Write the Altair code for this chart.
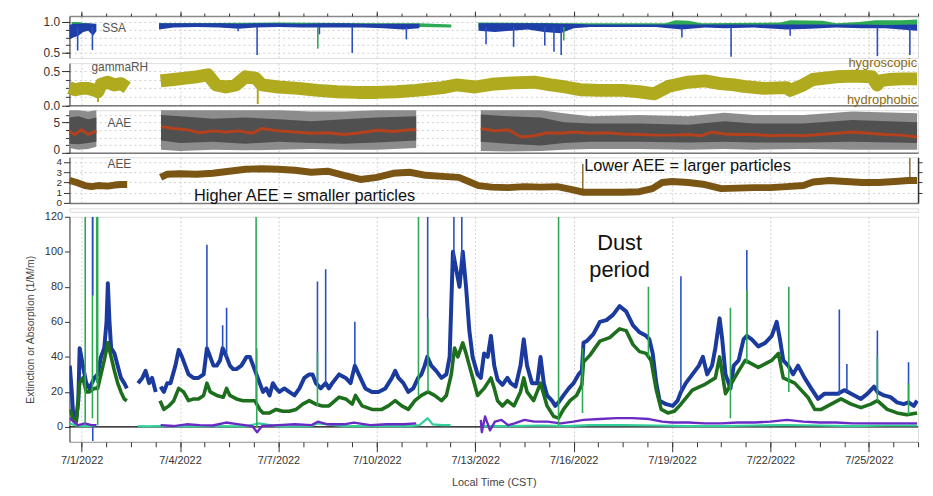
import altair as alt
import pandas as pd

FONT = "Liberation Sans"
W = 856
T0 = pd.Timestamp("2022-07-01 00:00:00")

# ---------------- data (day offsets from 7/1/2022 00:00 local) ----------------
MAJOR_DAYS = [0, 3, 6, 9, 12, 15, 18, 21, 24]           # 7/1 ... 7/25
MINOR_HOURS = list(range(0, 613, 18))                    # minor ticks every 18 h

# Extinction (blue): (day, value); None = data gap
EXT = [(-0.36, 35), (-0.30, 20), (-0.26, 8), (-0.16, 5), (-0.10, 15), (-0.06, 45), (0.04, 35), (0.14, 25),
       (0.24, 22), (0.39, 28), (0.49, 30), (0.59, 40), (0.69, 45), (0.76, 60), (0.80, 82), (0.85, 60),
       (0.90, 45), (1.00, 42), (1.10, 35), (1.20, 28), (1.30, 25), (1.38, 22), None,
       (1.72, 25), (1.85, 28), (1.95, 32), (2.06, 25), (2.15, 28), (2.26, 20), None,
       (2.41, 23), (2.51, 20), (2.61, 25), (2.71, 25), (2.86, 35), (2.96, 44), (3.06, 40), (3.16, 35),
       (3.26, 30), (3.41, 28), (3.56, 28), (3.72, 30), (3.82, 45), (3.92, 40), (4.02, 35), (4.12, 35),
       (4.22, 38), (4.30, 45), (4.42, 40), (4.52, 35), (4.62, 33), (4.72, 33), (4.87, 35), (5.03, 40),
       (5.13, 40), (5.23, 35), (5.33, 30), (5.43, 25), (5.53, 20), (5.63, 22), (5.73, 18), (5.83, 25),
       (5.93, 22), (6.03, 20), (6.18, 22), (6.33, 20), (6.49, 18), (6.64, 22), (6.79, 28), (6.94, 30),
       (7.04, 30), (7.14, 25), (7.29, 22), (7.44, 25), (7.54, 22), (7.64, 25), (7.85, 30), (8.05, 28),
       (8.20, 25), (8.33, 35), (8.45, 30), (8.65, 22), (8.85, 20), (9.05, 20), (9.26, 22), (9.46, 28),
       (9.56, 32), (9.66, 28), (9.81, 25), (9.96, 20), (10.11, 22), (10.26, 28), (10.36, 30), (10.46, 35),
       (10.54, 40), (10.66, 35), (10.81, 32), (10.97, 28), (11.12, 30), (11.22, 40), (11.32, 100),
       (11.42, 90), (11.52, 80), (11.62, 100), (11.72, 80), (11.82, 55), (11.92, 40), (12.07, 30),
       (12.17, 28), (12.27, 42), (12.38, 40), (12.48, 52), (12.58, 35), (12.68, 27), (12.83, 24),
       (12.98, 28), (13.08, 25), (13.23, 23), (13.38, 35), (13.48, 50), (13.58, 35), (13.73, 25),
       (13.89, 25), (13.99, 40), (14.09, 25), (14.19, 18), (14.34, 15), (14.44, 12), (14.54, 14),
       (14.69, 18), (14.85, 22), (15.00, 25), (15.15, 30), (15.25, 32), (15.30, 48), (15.40, 49),
       (15.60, 53), (15.80, 60), (16.00, 61), (16.20, 64), (16.40, 69), (16.60, 66), (16.81, 58),
       (17.01, 54), (17.21, 52), (17.31, 50), (17.41, 42), (17.52, 25), (17.62, 15), (17.82, 13),
       (18.02, 12), (18.17, 15), (18.27, 20), (18.42, 25), (18.62, 30), (18.82, 35), (18.94, 40),
       (19.07, 30), (19.22, 35), (19.32, 45), (19.45, 62), (19.53, 50), (19.63, 30), (19.78, 22),
       (19.88, 35), (20.03, 38), (20.18, 50), (20.28, 52), (20.43, 50), (20.63, 46), (20.84, 48),
       (21.04, 52), (21.19, 60), (21.29, 50), (21.39, 38), (21.54, 35), (21.69, 30), (21.84, 35),
       (22.04, 28), (22.24, 22), (22.45, 16), (22.65, 19), (22.85, 19), (23.05, 19), (23.25, 21),
       (23.36, 20), (23.56, 18), (23.76, 16), (23.96, 19), (24.16, 23), (24.26, 20), (24.46, 18),
       (24.66, 17), (24.86, 14), (25.06, 13), (25.21, 14), (25.37, 12), (25.47, 15)]

# Scattering (dark green)
SCA = [(-0.36, 10), (-0.26, 5), (-0.16, 3), (-0.06, 25), (0.04, 28), (0.14, 20), (0.24, 20), (0.39, 22),
       (0.49, 22), (0.59, 30), (0.69, 38), (0.80, 48), (0.90, 40), (1.00, 32), (1.10, 25), (1.20, 20),
       (1.30, 16), (1.38, 15), None,
       (2.39, 15), (2.51, 10), (2.66, 12), (2.81, 15), (2.96, 22), (3.11, 20), (3.26, 15), (3.41, 16),
       (3.56, 16), (3.72, 18), (3.82, 25), (3.92, 20), (4.12, 18), (4.32, 17), (4.42, 22), (4.52, 18),
       (4.72, 16), (4.92, 15), (5.13, 15), (5.28, 15), (5.43, 10), (5.53, 8), (5.73, 8), (5.93, 10),
       (6.13, 9), (6.33, 9), (6.54, 10), (6.74, 13), (6.94, 15), (7.14, 13), (7.34, 12), (7.54, 12),
       (7.85, 17), (8.05, 16), (8.25, 13), (8.35, 18), (8.55, 12), (8.85, 10), (9.15, 10), (9.35, 12),
       (9.56, 15), (9.76, 12), (9.96, 10), (10.16, 15), (10.36, 18), (10.56, 20), (10.76, 18),
       (10.97, 15), (11.12, 18), (11.27, 30), (11.37, 45), (11.47, 40), (11.62, 48), (11.72, 42),
       (11.82, 35), (11.97, 25), (12.07, 18), (12.27, 22), (12.48, 28), (12.58, 22), (12.68, 15),
       (12.83, 12), (12.98, 15), (13.18, 12), (13.38, 20), (13.48, 28), (13.58, 20), (13.78, 15),
       (13.99, 25), (14.19, 12), (14.39, 6), (14.54, 5), (14.69, 10), (14.89, 15), (15.09, 18),
       (15.25, 24), (15.30, 37), (15.50, 41), (15.80, 49), (16.10, 51), (16.40, 56), (16.60, 55),
       (16.81, 47), (17.01, 43), (17.21, 42), (17.36, 38), (17.52, 21), (17.67, 10), (17.87, 8),
       (18.07, 9), (18.27, 13), (18.62, 21), (18.97, 24), (19.32, 28), (19.45, 40), (19.63, 19),
       (20.03, 32), (20.23, 38), (20.63, 34), (21.04, 38), (21.24, 42), (21.39, 28), (21.74, 25),
       (22.14, 17), (22.35, 10), (22.55, 10), (22.85, 13), (23.15, 16), (23.46, 13), (23.76, 11),
       (24.06, 13), (24.26, 15), (24.56, 10), (24.86, 8), (25.16, 7), (25.47, 8)]

# Absorption (purple)
ABS = [(-0.36, 5), (-0.25, 3), (-0.10, 1), (0.10, 2), (0.30, 1), (0.45, 1), None,
       (2.41, 1), (2.8, 0.5), (3.2, 1.5), (3.6, 1), (4.0, 0.8), (4.4, 2.5), (4.8, 1.5), (5.2, 0.5),
       (5.35, -3), (5.5, 0.5), (6.0, 1), (6.5, 1.5), (7.0, 1), (7.2, 3), (7.5, 1.5), (8.0, 1.5),
       (8.3, 2.5), (8.8, 1), (9.3, 1.5), (9.8, 1.5), (10.2, 2), None,
       (12.17, 4), (12.20, -3), (12.30, 6), (12.45, -2), (12.6, 3), (12.8, 4), (13.0, 1), (13.2, 2),
       (13.5, 4), (13.8, 3), (14.2, 3), (14.6, 2), (15.0, 3), (15.3, 4), (15.8, 4.5), (16.3, 5),
       (16.8, 5), (17.3, 4.5), (17.7, 3), (18.0, 2.5), (18.5, 2.5), (19.0, 2), (19.5, 2), (20.0, 2.5),
       (20.5, 2.5), (21.0, 3), (21.5, 4), (22.0, 3), (22.5, 2.5), (23.0, 2.5), (23.5, 2), (24.0, 2),
       (24.5, 2), (25.0, 2), (25.47, 2)]

# Fourth trace (teal)
TEAL = [(-0.36, 2), (-0.2, 1), (0.0, 0.5), (0.2, 0.5), (0.45, 1), None,
        (1.72, 0.5), (2.0, 0.3), (2.3, 0.5), (2.6, 0.5), (3.0, 0.3), (4.0, 0.5), (5.0, 0.3), (5.4, 2),
        (6.0, 0.3), (7.0, 0.5), (7.2, 2), (8.0, 0.5), (9.0, 0.5), (10.0, 0.5), (10.3, 1), (10.55, 5),
        (10.7, 1.5), (11.0, 1), (11.25, 1), None,
        (12.17, 0.5), (13.0, 0.5), (14.0, 0.8), (14.8, 0.5), (15.5, 1), (16.5, 1), (17.5, 0.8),
        (18.5, 0.5), (19.5, 0.5), (20.5, 0.8), (21.5, 1), (22.5, 0.8), (23.5, 0.5), (24.5, 0.8),
        (25.47, 0.8)]

# Spikes in the lower panel: (day, series, from, to)
SPIKES = [(0.11, "teal", 2, 120), (0.33, "sca", 5, 120), (0.34, "abs", 75, 120), (0.34, "abs", -8, 0),
          (0.46, "sca", 25, 120), (0.49, "teal", 1, 120), (3.82, "ext", 45, 104), (4.30, "ext", 45, 58),
          (4.42, "ext", 40, 68), (5.32, "sca", 15, 120), (5.34, "teal", 0, 45), (7.19, "ext", 25, 83),
          (7.19, "sca", 12, 43), (7.44, "ext", 25, 90), (8.33, "ext", 35, 60), (10.27, "sca", 18, 120),
          (10.55, "ext", 40, 120), (10.56, "sca", 20, 62), (11.35, "ext", 95, 120), (11.59, "ext", 95, 120),
          (14.54, "teal", 1, 120), (15.27, "sca", 8, 45), (17.28, "sca", 40, 80), (18.27, "ext", 20, 86),
          (19.78, "sca", 5, 68), (20.28, "ext", 50, 101), (20.28, "sca", 36, 78), (21.56, "sca", 20, 80),
          (23.10, "ext", 18, 67), (23.33, "ext", 20, 36), (24.26, "ext", 20, 55), (24.26, "sca", 15, 40),
          (25.21, "ext", 14, 37), (25.21, "sca", 7, 25)]

# SSA bands: (day, low, high)
SSA_BLUE = [(-0.37, 0.72, 0.95), (-0.25, 0.75, 0.97), (-0.10, 0.78, 0.97), (0.05, 0.84, 0.98), (0.20, 0.86, 0.98),
            (0.35, 0.78, 0.97), (0.45, 0.85, 0.97), None,
            (2.36, 0.88, 0.98), (2.8, 0.91, 0.98), (3.5, 0.92, 0.98), (4.2, 0.91, 0.98), (4.8, 0.89, 0.97),
            (5.3, 0.91, 0.98), (6.0, 0.92, 0.98), (6.7, 0.91, 0.97), (7.4, 0.91, 0.98), (8.0, 0.91, 0.98),
            (8.6, 0.91, 0.97), (9.2, 0.90, 0.97), (9.8, 0.88, 0.97), (10.3, 0.90, 0.97), None,
            (12.1, 0.86, 0.98), (12.6, 0.84, 0.98), (13.1, 0.86, 0.98), (13.6, 0.88, 0.98), (14.1, 0.84, 0.98),
            (14.6, 0.82, 0.97), (15.0, 0.90, 0.97), (15.5, 0.92, 0.96), (16.5, 0.92, 0.96), (17.5, 0.92, 0.96),
            (18.3, 0.88, 0.96), (19.0, 0.91, 0.96), (19.6, 0.90, 0.96), (20.5, 0.91, 0.96), (21.5, 0.88, 0.96),
            (22.2, 0.89, 0.96), (23.0, 0.91, 0.96), (23.8, 0.90, 0.96), (24.5, 0.90, 0.95), (25.47, 0.86, 0.96)]
SSA_GREEN = [(-0.3, 0.93, 1.0), (-0.1, 0.94, 1.0), (0.1, 0.93, 0.98), (0.4, 0.92, 0.97), None,
             (2.36, 0.93, 0.98), (6.0, 0.93, 0.99), (9.0, 0.93, 0.98), (10.3, 0.92, 0.98), (11.27, 0.91, 0.96), None,
             (12.1, 0.92, 0.99), (15.0, 0.93, 0.98), (17.8, 0.93, 0.98), (18.1, 0.95, 1.03), (18.5, 0.95, 1.02),
             (18.9, 0.93, 0.98), (21.3, 0.93, 0.99), (21.6, 0.95, 1.03), (22.6, 0.95, 1.02), (23.0, 0.93, 0.98),
             (23.7, 0.94, 1.0), (24.2, 0.95, 1.03), (25.0, 0.95, 1.03), (25.47, 0.94, 1.04)]
SSA_DIPS = [(-0.12, "blue", 0.54, 0.92), (0.33, "blue", 0.55, 0.92), (4.77, "blue", 0.85, 0.92),
            (5.35, "blue", 0.47, 0.92), (7.20, "green", 0.57, 0.92), (7.25, "blue", 0.80, 0.92),
            (8.25, "blue", 0.50, 0.92), (9.90, "blue", 0.72, 0.92), (12.33, "blue", 0.64, 0.92),
            (13.17, "blue", 0.60, 0.92), (14.12, "blue", 0.62, 0.92), (14.40, "blue", 0.52, 0.92),
            (14.62, "blue", 0.47, 0.92), (14.70, "green", 0.70, 0.92), (18.30, "blue", 0.75, 0.92),
            (19.80, "blue", 0.44, 0.92), (21.60, "blue", 0.78, 0.92), (24.26, "blue", 0.45, 0.92),
            (25.25, "blue", 0.47, 0.92)]

# gammaRH (centre of the band)
GAMMA = [(-0.37, 0.26), (-0.2, 0.23), (0.0, 0.25), (0.2, 0.25), (0.4, 0.22), (0.5, 0.20), (0.6, 0.31),
         (0.8, 0.34), (1.0, 0.30), (1.2, 0.32), (1.39, 0.26), None,
         (2.41, 0.36), (2.8, 0.38), (3.16, 0.40), (3.5, 0.42), (3.85, 0.45), (4.1, 0.30), (4.4, 0.27),
         (4.7, 0.30), (5.0, 0.42), (5.3, 0.40), (5.5, 0.30), (6.0, 0.27), (6.6, 0.25), (7.2, 0.22),
         (7.8, 0.20), (8.4, 0.19), (9.0, 0.19), (9.6, 0.20), (10.2, 0.22), (10.6, 0.24), (11.0, 0.26),
         (11.42, 0.30), (12.0, 0.27), (12.5, 0.31), (13.13, 0.33), (13.8, 0.34), (14.3, 0.30), (14.74, 0.27),
         (15.2, 0.23), (15.8, 0.22), (16.5, 0.22), (17.0, 0.20), (17.46, 0.17), (17.9, 0.28), (18.47, 0.34),
         (19.0, 0.36), (19.47, 0.32), (19.9, 0.30), (20.18, 0.28), (20.8, 0.25), (21.49, 0.26), (21.6, 0.22),
         (22.0, 0.30), (22.29, 0.38), (23.0, 0.42), (23.5, 0.43), (24.1, 0.42), (24.25, 0.30), (24.35, 0.36),
         (24.6, 0.38), (25.0, 0.39), (25.47, 0.39)]
GAMMA_DIPS = [(5.37, 0.02, 0.34), (0.5, 0.05, 0.2)]

# AAE: outer band, inner band, running value
AAE_OUTER = [(-0.37, 0.8, 7), (-0.1, 0.5, 7), (0.2, 0.6, 6.8), (0.45, 1.0, 7), None,
             (2.42, 0.5, 7), (3.0, 0.3, 7), (4.0, 0.5, 7), (5.0, 0.4, 7), (6.0, 0.5, 7), (7.0, 0.6, 6.8),
             (8.0, 0.5, 6.8), (9.0, 0.5, 7), (10.2, 0.8, 7), None,
             (12.17, 0.3, 7), (13.0, 0.2, 7), (14.0, 0.3, 7), (14.7, 0.5, 6.5), (15.5, 0.6, 6.0), (17.0, 0.6, 6.2),
             (18.5, 0.5, 6.0), (19.6, 0.6, 6.6), (20.5, 0.5, 6.2), (22.0, 0.6, 6.2), (23.5, 0.5, 6.8), (25.47, 0.5, 6.5)]
AAE_INNER = [(-0.37, 1.5, 5.8), (-0.1, 1.4, 6.0), (0.2, 1.6, 5.5), (0.45, 1.8, 5.8), None,
             (2.42, 2.0, 6.2), (3.0, 1.6, 6.0), (4.0, 1.8, 5.6), (5.0, 1.5, 5.8), (6.0, 1.8, 5.5), (7.0, 1.6, 5.2),
             (8.0, 1.5, 5.5), (9.0, 1.7, 5.8), (10.2, 2.0, 6.0), None,
             (12.17, 1.8, 6.3), (13.0, 1.5, 6.0), (14.0, 1.2, 5.8), (14.7, 1.6, 5.0), (15.5, 1.8, 4.8), (17.0, 1.8, 4.8),
             (18.5, 1.7, 4.6), (19.6, 1.8, 5.2), (20.5, 1.7, 4.8), (22.0, 1.7, 4.8), (23.5, 1.8, 5.4), (25.47, 1.6, 5.0)]
AAE_MID = [(-0.37, 3.5), (-0.2, 3.0), (0.0, 3.8), (0.2, 3.0), (0.45, 3.6), None,
           (2.42, 4.3), (2.8, 4.0), (3.2, 3.8), (3.6, 3.3), (4.0, 3.6), (4.4, 3.4), (4.8, 3.6), (5.2, 3.2),
           (5.5, 4.0), (6.0, 3.6), (6.5, 3.4), (7.0, 3.2), (7.5, 3.3), (8.0, 3.0), (8.5, 3.3), (9.0, 3.7),
           (9.5, 3.5), (10.0, 3.8), (10.2, 3.8), None,
           (12.17, 4.0), (12.6, 3.6), (13.0, 3.8), (13.4, 2.6), (13.8, 2.8), (14.2, 3.3), (14.6, 3.2), (15.0, 3.4),
           (15.5, 3.2), (16.0, 3.3), (16.5, 3.1), (17.0, 3.0), (17.5, 2.9), (18.0, 2.9), (18.5, 3.0), (18.9, 2.8),
           (19.2, 3.4), (19.6, 3.1), (20.0, 3.0), (20.5, 3.0), (21.0, 2.8), (21.5, 2.9), (22.0, 2.8), (22.5, 3.0),
           (23.0, 3.2), (23.5, 3.4), (24.0, 3.2), (24.5, 3.0), (25.0, 2.9), (25.47, 2.6)]

# AEE (centre of band)
AEE = [(-0.37, 2.2), (-0.15, 2.0), (0.1, 1.7), (0.3, 1.6), (0.5, 1.7), (0.8, 1.65), (1.0, 1.75), (1.2, 1.8),
       (1.39, 1.8), None,
       (2.41, 2.5), (2.6, 2.8), (3.0, 2.85), (3.5, 2.8), (4.0, 2.9), (4.5, 3.1), (5.0, 3.3), (5.5, 3.35),
       (6.0, 3.3), (6.5, 3.2), (7.0, 3.0), (7.5, 3.1), (8.0, 2.7), (8.5, 2.3), (9.0, 2.5), (9.5, 2.9),
       (10.0, 3.0), (10.5, 2.7), (11.0, 2.6), (11.5, 2.5), (11.8, 2.1), (12.1, 1.7), (12.5, 1.55), (13.0, 1.5),
       (13.5, 1.6), (14.0, 1.55), (14.5, 1.6), (14.95, 1.3), (15.3, 1.05), (16.0, 1.05), (16.5, 1.05),
       (17.0, 1.1), (17.4, 1.4), (17.7, 2.0), (18.0, 2.1), (18.5, 2.0), (19.0, 1.8), (19.5, 1.4), (20.0, 1.45),
       (20.5, 1.5), (21.0, 1.5), (21.5, 1.6), (22.0, 1.7), (22.3, 2.05), (22.8, 2.2), (23.3, 2.1), (23.8, 2.0),
       (24.3, 2.0), (24.8, 2.1), (25.2, 2.2), (25.47, 2.2)]
AEE_SPIKES = [(15.28, 1.1, 3.8), (25.25, 2.2, 4.4)]

# text
PANEL_LABELS = {"ssa": (0.63, 0.905, "SSA"), "gamma": (0.30, 0.56, "gammaRH"),
                "aae": (0.79, 4.84, "AAE"), "aee": (0.79, 3.8, "AEE")}
GAMMA_NOTES = [(25.47, 0.617, "hygroscopic"), (25.47, 0.077, "hydrophobic")]
AEE_NOTES = [(18.47, 3.61, "Lower AEE = larger particles"), (6.80, 0.71, "Higher AEE = smaller particles")]
DUST_NOTE = [(16.4, 105.0, "Dust\nperiod")]

# ---------------- helpers ----------------
def when(day):
    return T0 + pd.Timedelta(minutes=round(day * 1440))


def dt(day):
    ts = when(day)
    return alt.DateTime(year=ts.year, month=ts.month, date=ts.day, hours=ts.hour, minutes=ts.minute)


def frame(rows, *names):
    out, seg = [], 0
    for r in rows:
        if r is None:
            seg += 1
            continue
        rec = {"time": when(r[0]), "seg": seg}
        for n, v in zip(names, r[1:]):
            rec[n] = v
        out.append(rec)
    return pd.DataFrame(out)


XSCALE = alt.Scale(domain=[dt(-0.37), dt(25.5)], nice=False)
MAJOR_VALS = [dt(d) for d in MAJOR_DAYS]
MINOR_VALS = [dt(h / 24) for h in MINOR_HOURS]
GRID = "#d0d0d0"


def ax(**kw):
    base = dict(title=None, labelFont=FONT, labelColor="#333", tickColor="#333", domainColor="#333",
                labelOverlap=False, grid=False)
    base.update(kw)
    return alt.Axis(**base)


def X(axis=None):
    return alt.X("time:T", scale=XSCALE, axis=axis, title=None)


def ysc(lo, hi):
    return alt.Scale(domain=[lo, hi], nice=False, zero=False)


top_major = ax(orient="top", values=MAJOR_VALS, labels=False, tickSize=5, domainColor="#8a8a8a",
               domainWidth=1.5, grid=True, gridColor=GRID, gridDash=[2, 2])
top_minor = ax(orient="top", values=MINOR_VALS, labels=False, tickSize=3, domain=False)
bottom_line = ax(orient="bottom", values=MAJOR_VALS, labels=False, ticks=False, domainColor="#7a7a7a",
                 domainWidth=1.5, grid=True, gridColor=GRID, gridDash=[2, 2])


def left_major(vals, fmt, size=12, tick=8, **kw):
    return ax(orient="left", values=vals, format=fmt, tickSize=tick, labelFontSize=size, labelPadding=2, **kw)


def left_minor(vals):
    return ax(orient="left", values=vals, labels=False, tickSize=4, domain=False, grid=True,
              gridColor="#cfcfcf", gridDash=[2, 3])


def label_layer(key, yscale, yaxis, xaxis=None):
    d, v, txt = PANEL_LABELS[key]
    df = pd.DataFrame({"time": [when(d)], "v": [v], "txt": [txt]})
    return alt.Chart(df).mark_text(align="left", baseline="middle", font=FONT, fontSize=12, color="#555").encode(
        x=X(xaxis), y=alt.Y("v:Q", scale=yscale, axis=yaxis), text="txt:N")


# ---------------- SSA ----------------
s_ssa = ysc(0.422, 1.096)
ssa_g = alt.Chart(frame(SSA_GREEN, "lo", "hi")).mark_area(color="#2eaa55").encode(
    x=X(top_major), y=alt.Y("lo:Q", scale=s_ssa, stack=None, axis=left_major([0.5, 1.0], ".1f")),
    y2="hi:Q", detail="seg:N")
ssa_b = alt.Chart(frame(SSA_BLUE, "lo", "hi")).mark_area(color="#1f3fa8").encode(
    x=X(), y=alt.Y("lo:Q", scale=s_ssa, stack=None, axis=None), y2="hi:Q", detail="seg:N")
ssa_d = alt.Chart(frame(SSA_DIPS, "c", "lo", "hi")).mark_rule(strokeWidth=1.6).encode(
    x=X(), y=alt.Y("lo:Q", scale=s_ssa, axis=None), y2="hi:Q",
    color=alt.Color("c:N", scale=alt.Scale(domain=["blue", "green"], range=["#2a4fc0", "#2eaa55"]), legend=None))
ssa = alt.layer(ssa_g, ssa_b, ssa_d,
                label_layer("ssa", s_ssa, left_minor([0.5, 0.625, 0.75, 0.875, 1.0]), top_minor)
                ).resolve_axis(x="independent", y="independent").properties(width=W, height=42.2)

# ---------------- gammaRH ----------------
s_gam = ysc(0.0, 0.621)
C_GAM = "#b0aa1f"
gam_l = alt.Chart(frame(GAMMA, "v")).mark_line(color=C_GAM, strokeWidth=13, strokeJoin="round",
                                                 strokeCap="butt").encode(
    x=X(bottom_line), y=alt.Y("v:Q", scale=s_gam, axis=left_major([0.0, 0.5], ".1f")), detail="seg:N")
gam_d = alt.Chart(frame(GAMMA_DIPS, "lo", "hi")).mark_rule(color=C_GAM, strokeWidth=2).encode(
    x=X(), y=alt.Y("lo:Q", scale=s_gam, axis=None), y2="hi:Q")
gam_n = alt.Chart(frame(GAMMA_NOTES, "v", "txt")).mark_text(align="right", baseline="middle", font=FONT,
                                                             fontSize=13, color="#8a6a10").encode(
    x=X(), y=alt.Y("v:Q", scale=s_gam, axis=None), text="txt:N")
gam = alt.layer(gam_l, gam_d, label_layer("gamma", s_gam, left_minor([0, 0.125, 0.25, 0.375, 0.5])), gam_n
                ).resolve_axis(x="independent", y="independent").properties(width=W, height=42.6)

# ---------------- AAE ----------------
s_aae = ysc(0.0, 7.0)
aae_o = alt.Chart(frame(AAE_OUTER, "lo", "hi")).mark_area(color="#8c8c8c").encode(
    x=X(bottom_line),
    y=alt.Y("lo:Q", scale=s_aae, stack=None,
            axis=left_major([0, 5], "d",
                            labelOffset={"condition": {"test": "datum.value === 0", "value": -3}, "value": 0})),
    y2="hi:Q", detail="seg:N")
aae_i = alt.Chart(frame(AAE_INNER, "lo", "hi")).mark_area(color="#505050").encode(
    x=X(), y=alt.Y("lo:Q", scale=s_aae, stack=None, axis=None), y2="hi:Q", detail="seg:N")
aae_m = alt.Chart(frame(AAE_MID, "v")).mark_line(color="#b4411c", strokeWidth=3, strokeJoin="round").encode(
    x=X(), y=alt.Y("v:Q", scale=s_aae, axis=None), detail="seg:N")
aae = alt.layer(aae_o, aae_i, aae_m, label_layer("aae", s_aae, left_minor([0, 1.25, 2.5, 3.75, 5, 6.25]))
                ).resolve_axis(x="independent", y="independent").properties(width=W, height=42.9)

# ---------------- AEE ----------------
s_aee = ysc(0.0, 4.46)
C_AEE = "#7b5513"
aee_l = alt.Chart(frame(AEE, "v")).mark_line(color=C_AEE, strokeWidth=7, strokeJoin="round",
                                              strokeCap="butt").encode(
    x=X(bottom_line),
    y=alt.Y("v:Q", scale=s_aee,
            axis=ax(orient="left", values=[0, 1, 2, 3, 4], format="d", tickSize=6, labelFontSize=10,
                    labelPadding=2, grid=True, gridColor="#cfcfcf", gridDash=[2, 3])),
    detail="seg:N")
aee_s = alt.Chart(frame(AEE_SPIKES, "lo", "hi")).mark_rule(color=C_AEE, strokeWidth=1.3).encode(
    x=X(), y=alt.Y("lo:Q", scale=s_aee, axis=None), y2="hi:Q")
aee_n = alt.Chart(frame(AEE_NOTES, "v", "txt")).mark_text(align="center", baseline="middle", font=FONT,
                                                           fontSize=16.5, color="#111").encode(
    x=X(), y=alt.Y("v:Q", scale=s_aee,
                   axis=ax(orient="right", values=[1, 2, 3, 4], labels=False, tickSize=4, domainWidth=1.5)),
    text="txt:N")
aee = alt.layer(aee_l, aee_s, label_layer("aee", s_aee, None), aee_n
                ).resolve_axis(x="independent", y="independent").properties(width=W, height=46.1)

# ---------------- spacer between the small panels and the main panel ----------------
spacer = alt.Chart(pd.DataFrame({"v": [0]})).mark_point(opacity=0).encode(
    y=alt.Y("v:Q", axis=None)).properties(width=W, height=3.5)

# ---------------- main panel ----------------
s_main = ysc(-8.5, 120)
COLORS = {"ext": "#1b3a9e", "sca": "#1d6e1d", "abs": "#6a2bc4", "teal": "#33d09a"}
WIDTHS = {"ext": 4, "sca": 3.6, "abs": 2.4, "teal": 2.2}
main_x_major = ax(orient="bottom", values=MAJOR_VALS, format="%-m/%-d/%Y", tickSize=10, labelPadding=3,
                  labelFontSize=11, domainColor="#9a9a9a", grid=True, gridColor=GRID, gridDash=[2, 2],
                  title="Local Time (CST)", titleFont=FONT, titleFontSize=11, titleFontWeight="normal",
                  titleColor="#444", titlePadding=11)
main_x_minor = ax(orient="bottom", values=MINOR_VALS, labels=False, tickSize=5, domain=False)
main_y = ax(orient="left", values=[0, 20, 40, 60, 80, 100, 120], format="d", tickSize=5, labelFontSize=11,
            labelPadding=2, title="Extinction or Absorption (1/M/m)", titleFont=FONT, titleFontSize=10.5,
            titleFontWeight="normal", titleColor="#444", titlePadding=9)

zero = alt.Chart(pd.DataFrame({"v": [0]})).mark_rule(color="black", strokeWidth=1.3).encode(
    y=alt.Y("v:Q", scale=s_main, axis=None))


def trace(rows, key, axes=False):
    return alt.Chart(frame(rows, "v")).mark_line(color=COLORS[key], strokeWidth=WIDTHS[key], clip=True,
                                                  strokeJoin="round").encode(
        x=X(main_x_major if axes else None),
        y=alt.Y("v:Q", scale=s_main, axis=main_y if axes else None), detail="seg:N")


spk = alt.Chart(frame(SPIKES, "s", "lo", "hi")).mark_rule(strokeWidth=1.6, clip=True).encode(
    x=X(), y=alt.Y("lo:Q", scale=s_main, axis=None), y2="hi:Q",
    color=alt.Color("s:N", scale=alt.Scale(domain=list(COLORS), range=list(COLORS.values())), legend=None))
dust = alt.Chart(frame(DUST_NOTE, "v", "txt")).mark_text(align="center", baseline="middle", font=FONT,
                                                          fontSize=22, lineHeight=27, lineBreak="\n",
                                                          color="#111").encode(
    x=X(main_x_minor), y=alt.Y("v:Q", scale=s_main, axis=None), text="txt:N")

main = alt.layer(zero, trace(EXT, "ext", axes=True), trace(SCA, "sca"), trace(TEAL, "teal"),
                 trace(ABS, "abs"), spk, dust
                 ).resolve_axis(x="independent", y="independent").properties(width=W, height=227)

chart = alt.vconcat(ssa, gam, aae, aee, spacer, main, spacing=4.5, bounds="flush").properties(
    padding={"left": 17, "top": 0, "right": 0, "bottom": 0}
).configure_view(stroke=None).configure(background="white")

chart.save("out.html", embed_options={"renderer": "svg", "actions": False})
